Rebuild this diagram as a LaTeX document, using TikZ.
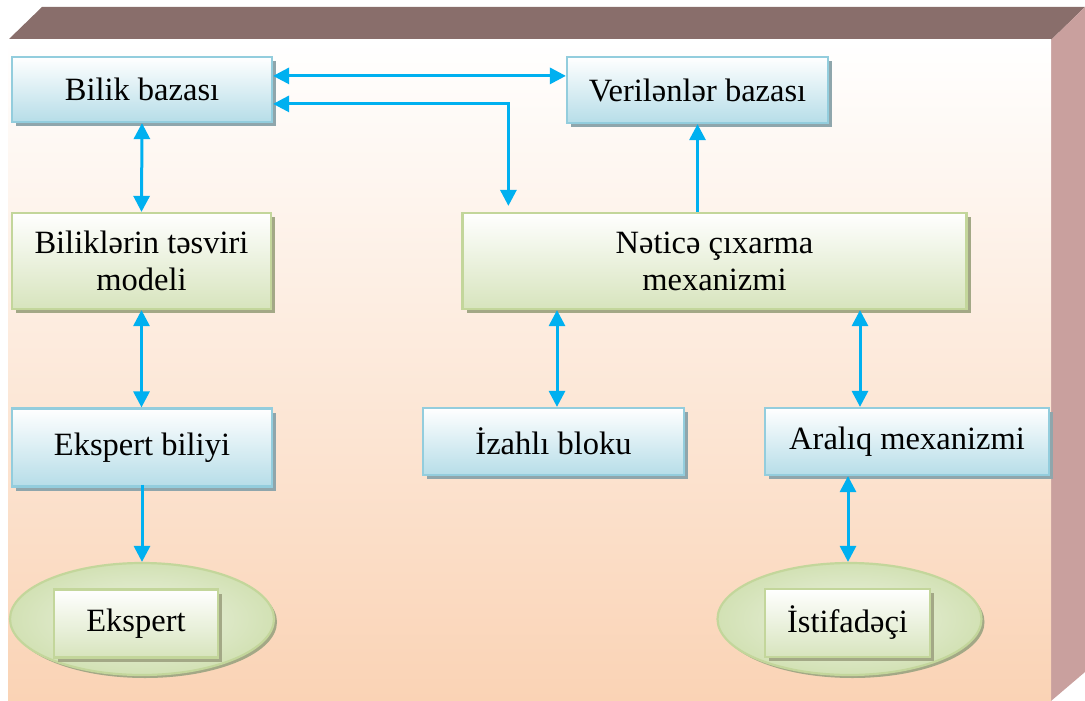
\documentclass[tikz,border=0pt]{standalone}
\usepackage{fontspec}
\setmainfont{Liberation Serif}
\usetikzlibrary{shapes.geometric,arrows.meta,shadows}
\definecolor{topbar}{HTML}{896E6B}
\definecolor{sidebar}{HTML}{C9A09E}
\definecolor{peach}{HTML}{FAD3B5}
\definecolor{blueB}{HTML}{B6DDE8}
\definecolor{blueD}{HTML}{93CDDD}
\definecolor{blueS}{HTML}{8FA6AC}
\definecolor{greenB}{HTML}{D7E4BD}
\definecolor{greenD}{HTML}{C3D69B}
\definecolor{greenS}{HTML}{A3A886}
\definecolor{ellI}{HTML}{EEF3E4}
\definecolor{ellO}{HTML}{D2E1B4}
\definecolor{arrowc}{HTML}{00B0F0}
\tikzset{
  txt/.style={font=\fontsize{32.5}{37}\selectfont, align=center, inner sep=0pt, line width=2.2pt},
  bluebox/.style={txt, rectangle, draw=blueD, top color=white, bottom color=blueB,
    drop shadow={shadow xshift=4pt, shadow yshift=-4pt, fill=blueS, opacity=1}},
  greenbox/.style={txt, rectangle, draw=greenD, top color=white, bottom color=greenB,
    drop shadow={shadow xshift=4pt, shadow yshift=-4pt, fill=greenS, opacity=1}},
  ellbox/.style={ellipse, draw=greenD, line width=2.2pt, inner color=ellI, outer color=ellO,
    minimum width=264pt, minimum height=112pt, inner sep=0pt,
    drop shadow={shadow xshift=3pt, shadow yshift=-3pt, fill=greenS, opacity=1}},
  dbl/.style={draw=arrowc, line width=3pt, {Triangle[length=16pt,width=16pt]}-{Triangle[length=16pt,width=16pt]}},
  sgl/.style={draw=arrowc, line width=3pt, -{Triangle[length=16pt,width=16pt]}}
}
\begin{document}
\begin{tikzpicture}[x=1pt,y=-1pt]
\useasboundingbox (0,0) rectangle (1085,701);
% frame
\fill[topbar] (8,40) -- (42,7) -- (1085,7) -- (1051,40) -- cycle;
\fill[sidebar] (1051,40) -- (1085,7) -- (1085,672) -- (1051,701) -- cycle;
\fill[top color=white, bottom color=peach] (8,40) rectangle (1051,701);
% nodes
\node[bluebox, minimum width=260pt, minimum height=65pt] (bb) at (142,89.5) {Bilik bazası};
\node[bluebox, minimum width=261pt, minimum height=66pt] (vb) at (697.5,90) {Verilənlər bazası};
\node[greenbox, minimum width=259pt, minimum height=96pt] (bm) at (141.5,261) {Biliklərin təsviri\\modeli};
\node[greenbox, minimum width=504pt, minimum height=96pt] (nm) at (714.5,261) {Nəticə çıxarma\\mexanizmi};
\node[bluebox, minimum width=260pt, minimum height=78pt] (eb) at (142,447.5) {\raisebox{7pt}{Ekspert biliyi}};
\node[bluebox, minimum width=261pt, minimum height=67pt] (iz) at (553.5,441.5) {İzahlı bloku};
\node[bluebox, minimum width=284pt, minimum height=67pt] (am) at (907,441.5) {Aralıq mexanizmi};
\node[ellbox] (ee) at (142,619) {};
\node[ellbox] (eu) at (849.5,619) {};
\node[greenbox, minimum width=164pt, minimum height=68pt] (ex) at (136,623.5) {\raisebox{3pt}{Ekspert}};
\node[greenbox, minimum width=165pt, minimum height=68pt] (us) at (847.5,623) {İstifadəçi};
% connectors
\draw[dbl] ([yshift=-20pt]bb.north east) -- ([yshift=-20pt]vb.north west);
\coordinate (c1) at ([xshift=47pt,yshift=6pt]nm.north west);
\draw[dbl] ([yshift=-48pt]bb.north east) -| (c1);
\draw[sgl] (vb.south |- nm.north) -- (vb.south);
\draw[dbl] (bb.south) -- (bm.north);
\draw[dbl] (bm.south) -- (bm.south |- eb.north);
\draw[sgl] ([yshift=3pt]eb.south) -- (eb.south |- ee.north);
\coordinate (c2) at ([xshift=3.5pt]iz.north);
\draw[dbl] (c2 |- nm.south) -- (c2);
\coordinate (c3) at ([xshift=-47pt]am.north);
\draw[dbl] (c3 |- nm.south) -- (c3);
\coordinate (c4) at ([xshift=-59pt]am.south);
\draw[dbl] (c4) -- (c4 |- eu.north);
\end{tikzpicture}
\end{document}
